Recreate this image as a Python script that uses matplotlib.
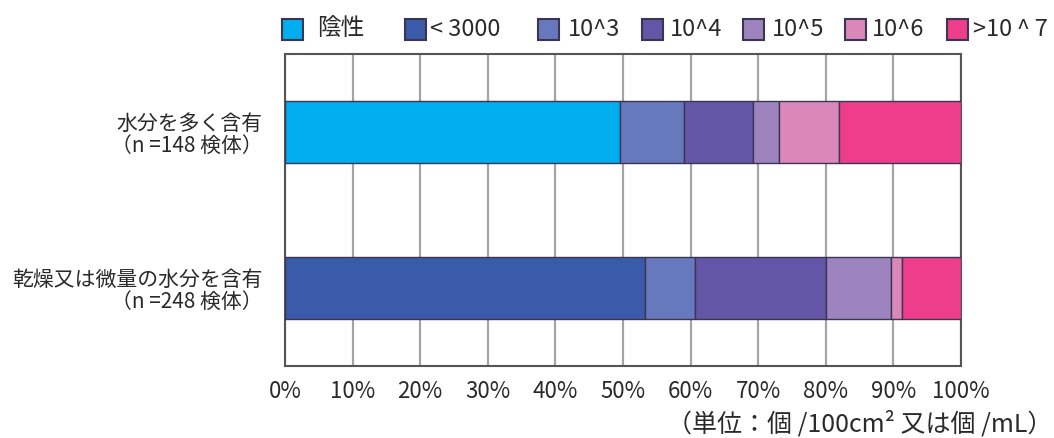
import matplotlib
matplotlib.use("Agg")
import matplotlib.pyplot as plt
from matplotlib.patches import Rectangle

plt.rcParams["font.family"] = ["Noto Sans CJK JP", "DejaVu Sans"]

# Samples grouped by moisture content
categories = ["水分を多く含有\n（n =148 検体）",
              "乾燥又は微量の水分を含有\n（n =248 検体）"]

# Count classes (share of samples, %)
classes = ["陰性", "< 3000", "10^3", "10^4", "10^5", "10^6", ">10\u2009^\u20097"]
moist_share = [49.5, 0.0, 9.5, 10.3, 3.8, 8.8, 18.1]
dry_share = [0.0, 53.2, 7.5, 19.3, 9.7, 1.5, 8.8]

xticks = [0, 10, 20, 30, 40, 50, 60, 70, 80, 90, 100]
xtick_labels = [f"{v}%" for v in xticks]

colors = ["#00AEEF", "#3A5BA9", "#6679BC", "#6456A7",
          "#9D84BE", "#DC87BA", "#EE3D8B"]
edge = "#3b3452"
text_col = "#2a2a2a"

W, H = 1054, 438
fig = plt.figure(figsize=(W / 100, H / 100), dpi=100)
ax = fig.add_axes([285 / W, 1 - 366 / H, (961 - 285) / W, (366 - 54) / H])

shares = [moist_share, dry_share]
ypos = list(range(len(categories)))
for yi, row in zip(ypos, shares):
    left = 0.0
    for val, col in zip(row, colors):
        if val > 0:
            ax.barh(yi, val, left=left, height=0.40, color=col,
                    edgecolor=edge, linewidth=1.0, zorder=3)
        left += val

ax.set_xlim(0, 100)
ax.set_ylim(1.5, -0.5)
ax.set_xticks(xticks)
ax.set_xticklabels(xtick_labels, fontsize=16, color=text_col)
ax.set_yticks(ypos)
ax.set_yticklabels(categories, fontsize=15, color=text_col,
                   linespacing=1.02)
ax.tick_params(axis="x", length=0, pad=10)
ax.tick_params(axis="y", length=0, pad=16)
ax.xaxis.grid(True, color="#a4a4a4", linewidth=1.6, zorder=0)
for s in ax.spines.values():
    s.set_color("#555555")
    s.set_linewidth(1.5)

# Legend row across the top
sq_left = [282, 405, 538, 642, 743, 845, 947]
txt_left = [317, 430, 568, 670, 772, 872, 973]
sq = 21
ycen = 29
for lab, col, sx, tx in zip(classes, colors, sq_left, txt_left):
    fig.patches.append(Rectangle((sx / W, 1 - (ycen + sq / 2) / H), sq / W, sq / H,
                                 transform=fig.transFigure, facecolor=col,
                                 edgecolor=edge, linewidth=1.5))
    fig.text(tx / W, 1 - ycen / H, lab, fontsize=17, color=text_col,
             ha="left", va="center")

fig.text(1052 / W, 1 - 424 / H, "（単位：個 /100cm² 又は個 /mL）",
         fontsize=18, color=text_col, ha="right", va="center")

fig.savefig("out.png", dpi=100, facecolor="white")
